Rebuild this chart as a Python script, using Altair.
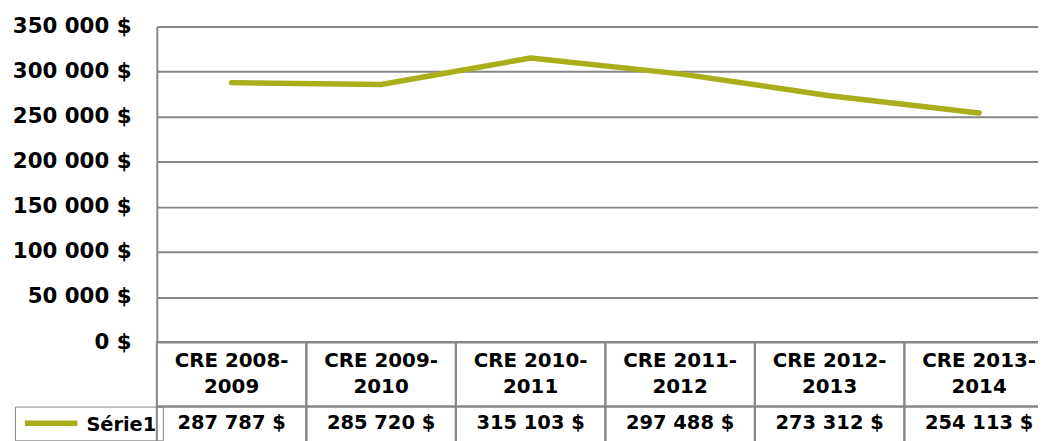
import altair as alt
import pandas as pd

# ---- data ----
categories = ["CRE 2008-2009", "CRE 2009-2010", "CRE 2010-2011",
              "CRE 2011-2012", "CRE 2012-2013", "CRE 2013-2014"]
values = [287787, 285720, 315103, 297488, 273312, 254113]
series_name = "Série1"
y_ticks = [0, 50000, 100000, 150000, 200000, 250000, 300000, 350000]
table_rows = ["header", "values"]

LINE = "#a9af1b"
GRID = "#878787"
FONT = "DejaVu Sans"


def money(v):
    return f"{v:,}".replace(",", " ") + " $"


df = pd.DataFrame({
    "category": categories,
    "value": values,
    "series": [series_name] * len(categories),
    "header": [c.replace("-", "-\n", 1) for c in categories],
    "label": [money(v) for v in values],
})
cells = pd.DataFrame({
    "category": [c for c in categories for _ in table_rows],
    "row": [r for _ in categories for r in table_rows],
})

x_scale = alt.Scale(type="band", domain=categories, range=[0, 904],
                    paddingInner=0, paddingOuter=0)
t_scale = alt.Scale(type="band", domain=table_rows, range=[318, 448],
                    paddingInner=0, paddingOuter=0)

line = alt.Chart(df).mark_line(strokeWidth=5.5, strokeCap="round", strokeJoin="round").encode(
    x=alt.X("category:N", scale=x_scale, sort=categories, bandPosition=0.5, axis=None),
    y=alt.Y("value:Q", scale=alt.Scale(domain=[0, 350000], nice=False, zero=True),
            axis=alt.Axis(values=y_ticks, title=None, ticks=False, grid=True,
                          gridColor=GRID, gridWidth=2, domain=True, domainColor=GRID,
                          domainWidth=2, labelPadding=26, labelFont=FONT,
                          labelFontSize=21.5, labelFontWeight="bold", labelColor="black",
                          labelExpr="replace(format(datum.value, ','), ',', ' ') + ' $'")),
    color=alt.Color("series:N", scale=alt.Scale(range=[LINE]),
                    legend=alt.Legend(orient="none", legendX=-143, legendY=383, title=None,
                                      symbolType="M-1.71,-0.5H1.71", symbolStrokeWidth=5.5,
                                      symbolSize=961, symbolOffset=12,
                                      labelFont=FONT, labelFontSize=19.5,
                                      labelFontWeight="bold", labelColor="black",
                                      labelBaseline="alphabetic",
                                      labelOffset=17, strokeColor=GRID, padding=6)),
)

table = alt.Chart(cells).mark_rect(fill="white", fillOpacity=0, stroke=GRID, strokeWidth=2).encode(
    x=alt.X("category:N", scale=x_scale, sort=categories, axis=None),
    y=alt.Y("row:N", scale=t_scale, axis=None),
)

header = alt.Chart(df).transform_calculate(row="'header'").mark_text(
    font=FONT, fontSize=20, fontWeight="bold", color="black",
    lineBreak="\n", lineHeight=26, baseline="middle", align="center", dy=-13.5).encode(
    x=alt.X("category:N", scale=x_scale, sort=categories, bandPosition=0.5, axis=None),
    y=alt.Y("row:N", scale=t_scale, bandPosition=0.5, axis=None),
    text="header:N",
)

vals = alt.Chart(df).transform_calculate(row="'values'").mark_text(
    font=FONT, fontSize=19.6, fontWeight="bold", color="black",
    baseline="middle", align="center").encode(
    x=alt.X("category:N", scale=x_scale, sort=categories, bandPosition=0.5, axis=None),
    y=alt.Y("row:N", scale=t_scale, bandPosition=0.255, axis=None),
    text="label:N",
)

chart = alt.layer(table, header, vals, line).resolve_scale(
    y="independent"
).properties(
    width=888, height=318,
    autosize=alt.AutoSizeParams(type="none"),
    padding={"left": 150, "top": 17, "right": 0, "bottom": 98},
).configure_view(stroke=None)

chart.save("out.html", embed_options={"renderer": "svg", "actions": False})
